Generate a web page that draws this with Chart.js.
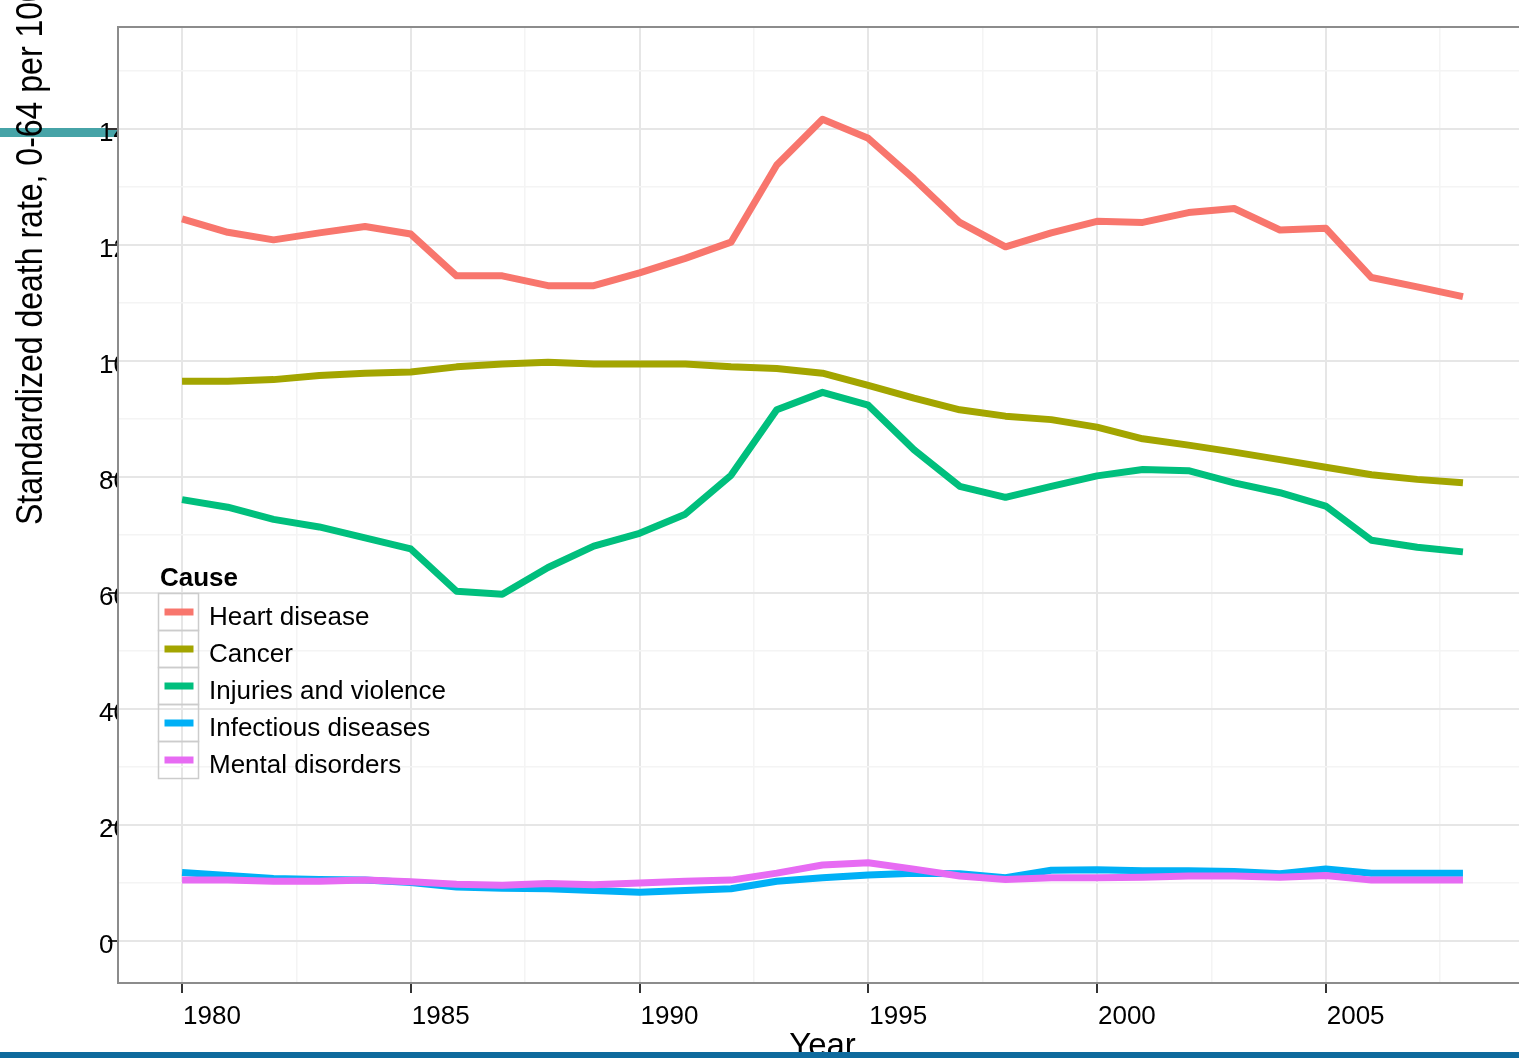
<!DOCTYPE html>
<html>
<head>
<meta charset="utf-8">
<script src="https://cdn.jsdelivr.net/npm/chart.js@4.4.0/dist/chart.umd.min.js"></script>
<style>
  html, body { margin: 0; padding: 0; background: #fff; overflow: hidden; }
  #wrap { width: 1535px; height: 1058px; position: relative; }
</style>
</head>
<body>
<div id="wrap"><canvas id="deathChart"></canvas></div>
<script>
// years on the x axis
const years = [1980, 1981, 1982, 1983, 1984, 1985, 1986, 1987, 1988, 1989,
               1990, 1991, 1992, 1993, 1994, 1995, 1996, 1997, 1998, 1999,
               2000, 2001, 2002, 2003, 2004, 2005, 2006, 2007, 2008];

const causes = ['Heart disease', 'Cancer', 'Injuries and violence', 'Infectious diseases', 'Mental disorders'];

// rates per cause
const heart      = [124.5, 122.2, 120.9, 122.1, 123.2, 121.9, 114.7, 114.7, 113.0, 113.0,
                    115.2, 117.7, 120.5, 133.8, 141.7, 138.4, 131.4, 123.9, 119.7, 122.1,
                    124.1, 123.9, 125.6, 126.3, 122.6, 122.9, 114.4, 112.8, 111.1];
const cancer     = [96.5, 96.5, 96.8, 97.5, 97.9, 98.1, 99.0, 99.5, 99.8, 99.5,
                    99.5, 99.5, 99.0, 98.7, 97.9, 95.8, 93.6, 91.6, 90.5, 89.9,
                    88.6, 86.6, 85.5, 84.3, 83.0, 81.7, 80.4, 79.6, 79.0];
const injuries   = [76.1, 74.8, 72.7, 71.4, 69.5, 67.6, 60.3, 59.8, 64.4, 68.1,
                    70.3, 73.6, 80.3, 91.6, 94.6, 92.4, 84.7, 78.4, 76.5, 78.4,
                    80.2, 81.3, 81.1, 79.0, 77.3, 75.0, 69.1, 67.9, 67.1];
const infectious = [11.8, 11.3, 10.8, 10.6, 10.5, 10.1, 9.3, 9.1, 9.0, 8.7,
                    8.4, 8.7, 9.0, 10.3, 10.9, 11.4, 11.7, 11.6, 10.9, 12.2,
                    12.3, 12.1, 12.1, 12.0, 11.6, 12.4, 11.7, 11.7, 11.7];
const mental     = [10.5, 10.5, 10.3, 10.3, 10.5, 10.2, 9.8, 9.6, 9.9, 9.7,
                    10.0, 10.3, 10.5, 11.7, 13.1, 13.5, 12.4, 11.2, 10.6, 10.9,
                    10.9, 11.0, 11.2, 11.2, 11.0, 11.3, 10.5, 10.5, 10.5];

// major + minor gridline positions
const xTicks = [1980, 1982.5, 1985, 1987.5, 1990, 1992.5, 1995, 1997.5, 2000, 2002.5, 2005, 2007.5];
const yTicks = [0, 10, 20, 30, 40, 50, 60, 70, 80, 90, 100, 110, 120, 130, 140, 150];

const seriesValues = [heart, cancer, injuries, infectious, mental];
const colors = ['#F8766D', '#A3A500', '#00BF7D', '#00B0F6', '#E76BF3'];

const FONT = '"Liberation Sans", Arial, Helvetica, sans-serif';

const datasets = causes.map((name, i) => ({
    label: name,
    data: years.map((yr, j) => ({ x: yr, y: seriesValues[i][j] })),
    borderColor: colors[i],
    backgroundColor: colors[i],
    borderWidth: 7,
    pointRadius: 0,
    tension: 0,
    borderJoinStyle: 'round',
    borderCapStyle: 'butt',
    order: causes.length - i
}));

const isMajorX = v => v % 5 === 0;
const isMajorY = v => v % 20 === 0;

const decorPlugin = {
    id: 'decor',
    beforeDraw(chart) {
        const ctx = chart.ctx;
        // teal slide stripe on the left
        ctx.save();
        ctx.fillStyle = '#46a3a7';
        ctx.fillRect(0, 128, 118, 9);
        ctx.restore();
    },
    afterDatasetsDraw(chart) {
        const ctx = chart.ctx;
        const a = chart.chartArea;
        ctx.save();
        ctx.strokeStyle = '#8c8c8c';
        ctx.lineWidth = 2;
        ctx.strokeRect(a.left, a.top, a.right - a.left, a.bottom - a.top);
        ctx.restore();
    },
    afterDraw(chart) {
        const ctx = chart.ctx;
        const a = chart.chartArea;
        const xs = chart.scales.x;
        const ys = chart.scales.y;

        // y tick labels (covered by the panel on the right)
        ctx.save();
        ctx.beginPath();
        ctx.rect(0, 0, a.left - 1, chart.height);
        ctx.clip();
        ctx.fillStyle = '#000';
        ctx.font = '26px ' + FONT;
        ctx.textAlign = 'left';
        ctx.textBaseline = 'alphabetic';
        ys.ticks.forEach(t => {
            if (!isMajorY(t.value)) return;
            ctx.fillText(String(t.value), 99, ys.getPixelForValue(t.value) + 12);
        });
        ctx.restore();

        // x tick labels
        ctx.save();
        ctx.fillStyle = '#000';
        ctx.font = '26px ' + FONT;
        ctx.textAlign = 'left';
        ctx.textBaseline = 'alphabetic';
        xs.ticks.forEach(t => {
            if (!isMajorX(t.value)) return;
            ctx.fillText(String(t.value), xs.getPixelForValue(t.value) + 1, 1024);
        });
        ctx.restore();

        // y axis title
        ctx.save();
        ctx.translate(41.5, 525);
        ctx.rotate(-Math.PI / 2);
        ctx.scale(1, 1.16);
        ctx.fillStyle = '#000';
        ctx.font = '32px ' + FONT;
        ctx.textAlign = 'left';
        ctx.textBaseline = 'alphabetic';
        ctx.fillText('Standardized death rate, 0-64 per 100 000', 0, 0);
        ctx.restore();

        // x axis title
        ctx.save();
        ctx.fillStyle = '#000';
        ctx.font = '33px ' + FONT;
        ctx.textAlign = 'center';
        ctx.textBaseline = 'alphabetic';
        ctx.fillText('Year', (a.left + a.right) / 2, 1056);
        ctx.restore();

        // legend, ggplot style
        ctx.save();
        ctx.fillStyle = '#000';
        ctx.font = 'bold 26px ' + FONT;
        ctx.textAlign = 'left';
        ctx.fillText('Cause', 160, 586);
        const boxL = 158.5, boxW = 40, boxTop = 593.5, boxH = 37;
        chart.data.datasets.forEach((ds, i) => {
            const top = boxTop + i * boxH;
            ctx.strokeStyle = '#cccccc';
            ctx.lineWidth = 1.5;
            ctx.strokeRect(boxL, top, boxW, boxH);
            ctx.strokeStyle = ds.borderColor;
            ctx.lineWidth = 7;
            ctx.lineCap = 'butt';
            ctx.beginPath();
            ctx.moveTo(boxL + 6, top + boxH / 2);
            ctx.lineTo(boxL + boxW - 5, top + boxH / 2);
            ctx.stroke();
            ctx.fillStyle = '#000';
            ctx.font = '26px ' + FONT;
            ctx.fillText(ds.label, 209, top + boxH / 2 + 13);
        });
        ctx.restore();

        // blue slide stripe at the bottom
        ctx.save();
        ctx.fillStyle = '#0e6a9d';
        ctx.fillRect(0, 1052, chart.width, 10);
        ctx.restore();
    }
};

const ctx = document.getElementById('deathChart').getContext('2d');
new Chart(ctx, {
    type: 'line',
    data: { datasets: datasets },
    plugins: [decorPlugin],
    options: {
        responsive: true,
        maintainAspectRatio: false,
        animation: false,
        layout: { padding: { left: 0, top: 27, right: 8, bottom: 0 } },
        plugins: {
            legend: { display: false },
            title: { display: false },
            tooltip: { enabled: false }
        },
        scales: {
            x: {
                type: 'linear',
                min: 1978.6,
                max: 2009.4,
                afterBuildTicks: scale => { scale.ticks = xTicks.map(v => ({ value: v })); },
                afterFit: scale => { scale.height = 75; },
                ticks: { display: false },
                border: { display: false },
                grid: {
                    color: c => isMajorX(c.tick.value) ? '#e6e6e6' : '#f4f4f4',
                    lineWidth: c => isMajorX(c.tick.value) ? 2 : 1.5,
                    tickColor: c => isMajorX(c.tick.value) ? '#333333' : 'rgba(0,0,0,0)',
                    tickLength: 10,
                    tickWidth: 2
                }
            },
            y: {
                type: 'linear',
                min: -7.24,
                max: 157.6,
                afterBuildTicks: scale => { scale.ticks = yTicks.map(v => ({ value: v })); },
                afterFit: scale => { scale.width = 118; },
                ticks: { display: false },
                border: { display: false },
                grid: {
                    color: c => isMajorY(c.tick.value) ? '#e6e6e6' : '#f4f4f4',
                    lineWidth: c => isMajorY(c.tick.value) ? 2 : 1.5,
                    tickColor: c => isMajorY(c.tick.value) ? '#333333' : 'rgba(0,0,0,0)',
                    tickLength: 10,
                    tickWidth: 2
                }
            }
        }
    }
});
</script>
</body>
</html>
